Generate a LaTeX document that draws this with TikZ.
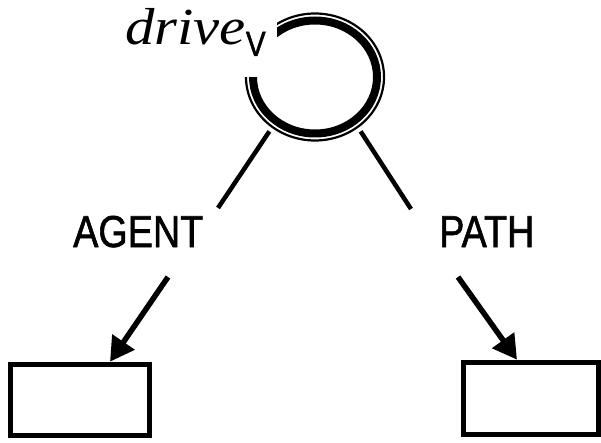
\documentclass[tikz,border=0pt]{standalone}
\usepackage{fontspec}
\setmainfont{Liberation Serif}
\newfontfamily\lblfont[FakeStretch=0.845,FakeBold=1.3]{Liberation Sans}
\newfontfamily\drvfont[FakeStretch=1.13]{Liberation Serif Italic}
\usetikzlibrary{arrows.meta,shapes.geometric}
\begin{document}
\begin{tikzpicture}[x=1pt,y=1pt,
  lbl/.style={font=\lblfont\fontsize{44.7}{50}\selectfont, inner sep=0, anchor=base west},
  conn/.style={line width=4.5pt},
  arr/.style={line width=5.5pt, -{Triangle[length=24pt,width=26pt]}},
  slot/.style={draw, line width=5.5pt, inner sep=0}]
\useasboundingbox (0,0) rectangle (601,442);
% concept node
\node[ellipse, minimum width=140pt, minimum height=127pt, outer sep=5pt, inner sep=0] (drive) at (315,365) {};
\draw[line width=8pt] (drive.center) ellipse [x radius=62, y radius=56.5];
\draw[line width=2.2pt] (drive.center) ellipse [x radius=69, y radius=63.5];
\fill[white] (100,365) rectangle (277,442);
\node[inner sep=0, anchor=base west] (name) at (125,397)
  {\drvfont\fontsize{52}{52}\selectfont drive\/\raisebox{-11pt}{\lblfont\fontsize{35}{35}\selectfont V}};
% relation labels
\node[lbl] (agent) at (73,195) {AGENT};
\node[lbl] (path) at (439,195) {PATH};
% boxes
\node[slot, minimum width=139pt, minimum height=71pt] (box1) at (80,42) {};
\node[slot, minimum width=135pt, minimum height=72pt] (box2) at (531,43.5) {};
% free ends
\coordinate (c1) at (218,234);
\coordinate (c2) at (411,233);
\coordinate (c3) at (168,165);
\coordinate (c4) at (458,165);
% connectors
\draw[conn] (drive.-130) -- (c1);
\draw[conn] (drive.-50) -- (c2);
\draw[arr] (c3) -- ([xshift=30pt]box1.north);
\draw[arr] (c4) -- ([xshift=-14pt]box2.north);
\end{tikzpicture}
\end{document}
